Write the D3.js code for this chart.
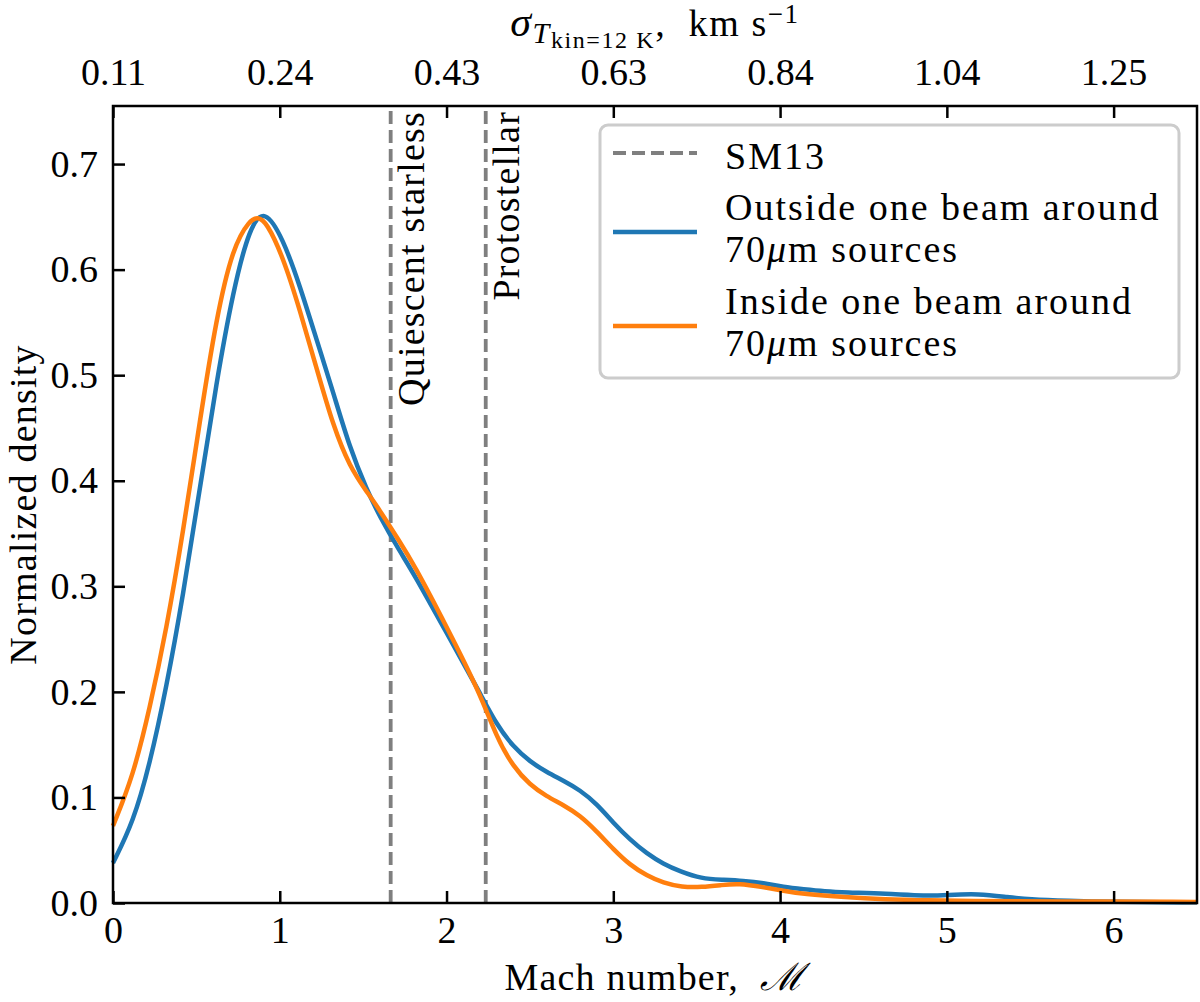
<!DOCTYPE html>
<html>
<head>
<meta charset="utf-8">
<script src="https://cdn.jsdelivr.net/npm/d3@7"></script>
<style>
  body { margin: 0; background: #fff; }
</style>
</head>
<body>
<script>
// Mach number grid and KDE densities
const machOutside = [0, 0.12, 0.22, 0.32, 0.42, 0.52, 0.62, 0.72, 0.82, 0.91, 1.02, 1.12, 1.22, 1.32, 1.42, 1.52, 1.6, 1.72, 1.8, 2.0, 2.2, 2.3, 2.4, 2.5, 2.6, 2.7, 2.8, 2.9, 3.0, 3.1, 3.2, 3.3, 3.4, 3.53, 3.65, 3.78, 3.9, 4.02, 4.14, 4.27, 4.39, 4.63, 4.88, 5.0, 5.19, 5.37, 5.49, 5.73, 5.97, 6.5]
const densOutside = [0.038, 0.076, 0.131, 0.204, 0.291, 0.392, 0.493, 0.58, 0.641, 0.658, 0.629, 0.585, 0.534, 0.484, 0.431, 0.392, 0.366, 0.333, 0.313, 0.256, 0.199, 0.169, 0.148, 0.134, 0.124, 0.116, 0.107, 0.094, 0.076, 0.06, 0.047, 0.037, 0.03, 0.023, 0.022, 0.021, 0.019, 0.015, 0.013, 0.011, 0.01, 0.009, 0.0066, 0.0076, 0.009, 0.0054, 0.0035, 0.002, 0.001, 0.0005]

const machInside = [0, 0.12, 0.22, 0.32, 0.42, 0.52, 0.62, 0.72, 0.82, 0.87, 0.92, 1.02, 1.12, 1.22, 1.32, 1.42, 1.52, 1.6, 1.72, 1.8, 2.0, 2.2, 2.3, 2.4, 2.5, 2.6, 2.7, 2.8, 2.9, 3.0, 3.1, 3.2, 3.3, 3.41, 3.53, 3.65, 3.75, 3.9, 4.02, 4.14, 4.39, 4.63, 4.88, 5.12, 5.61, 6.5]
const densInside = [0.073, 0.12, 0.184, 0.259, 0.351, 0.456, 0.555, 0.622, 0.647, 0.65, 0.645, 0.612, 0.562, 0.507, 0.452, 0.413, 0.39, 0.372, 0.342, 0.322, 0.262, 0.199, 0.157, 0.129, 0.112, 0.101, 0.093, 0.083, 0.068, 0.051, 0.036, 0.026, 0.019, 0.015, 0.015, 0.017, 0.0186, 0.015, 0.0116, 0.0085, 0.0054, 0.0035, 0.0025, 0.002, 0.0015, 0.001]

// SM13 thresholds (quiescent starless, protostellar)
const sm13Mach = [1.665, 2.235]
const sm13Labels = ["Quiescent starless", "Protostellar"]

const xTicks = [0, 1, 2, 3, 4, 5, 6]
const yTicks = [0, 0.1, 0.2, 0.3, 0.4, 0.5, 0.6, 0.7]
const sigmaLabels = ["0.11", "0.24", "0.43", "0.63", "0.84", "1.04", "1.25"]

const width = 1200, height = 1002
const margin = {left: 113, right: 3, top: 106, bottom: 99}
const fs = 38
const serif = '"Liberation Serif", "Times New Roman", serif'

const svg = d3.select("body")
    .append("svg")
    .attr("width", width)
    .attr("height", height)
    .style("font-family", serif)

const x = d3.scaleLinear().domain([0, 6.5]).range([margin.left, width - margin.right])
const y = d3.scaleLinear().domain([0, 0.755]).range([height - margin.bottom, margin.top])

const blue = "#1f77b4", orange = "#ff7f0e"

// SM13 dashed lines
svg.selectAll(".sm13")
    .data(sm13Mach)
    .enter()
    .append("line")
    .attr("class", "sm13")
    .attr("x1", d => x(d)).attr("x2", d => x(d))
    .attr("y1", y(0)).attr("y2", y(0.755))
    .attr("stroke", "#7f7f7f")
    .attr("stroke-width", 3.8)
    .attr("stroke-dasharray", "13,6")

svg.selectAll(".sm13-label")
    .data(sm13Mach)
    .enter()
    .append("text")
    .attr("class", "sm13-label")
    .attr("transform", d => `translate(${x(d) + 33},${y(0.755) + 5}) rotate(-90)`)
    .attr("text-anchor", "end")
    .attr("font-size", fs)
    .attr("letter-spacing", 1.2)
    .text((d, i) => sm13Labels[i])

// density curves
const line = d3.line()
    .x(d => x(d[0]))
    .y(d => y(d[1]))
    .curve(d3.curveBasis)

svg.append("path")
    .datum(d3.zip(machOutside, densOutside))
    .attr("d", line)
    .attr("fill", "none")
    .attr("stroke", blue)
    .attr("stroke-width", 4.5)

svg.append("path")
    .datum(d3.zip(machInside, densInside))
    .attr("d", line)
    .attr("fill", "none")
    .attr("stroke", orange)
    .attr("stroke-width", 4.5)

// axes, ticks pointing in
svg.append("g")
    .attr("transform", `translate(0,${y(0)})`)
    .call(d3.axisBottom(x).tickValues(xTicks).tickFormat(d3.format("d")).tickSizeInner(-12).tickSizeOuter(0).tickPadding(13))

svg.append("g")
    .attr("transform", `translate(0,${y(0.755)})`)
    .call(d3.axisTop(x).tickValues(xTicks).tickFormat((d, i) => sigmaLabels[i]).tickSizeInner(-12).tickSizeOuter(0).tickPadding(21))

svg.append("g")
    .attr("transform", `translate(${x(0)},0)`)
    .call(d3.axisLeft(y).tickValues(yTicks).tickFormat(d3.format(".1f")).tickSizeInner(-12).tickSizeOuter(0).tickPadding(15))

svg.selectAll(".domain").remove()
svg.selectAll(".tick line").attr("stroke", "#000").attr("stroke-width", 2.5)
svg.selectAll(".tick text")
    .attr("font-size", fs)
    .attr("fill", "#000")

// frame
svg.append("rect")
    .attr("x", x(0))
    .attr("y", y(0.755))
    .attr("width", x(6.5) - x(0))
    .attr("height", y(0) - y(0.755))
    .attr("fill", "none")
    .attr("stroke", "#000")
    .attr("stroke-width", 2.5)

// axis labels
svg.append("text")
    .attr("x", (x(0) + x(6.5)) / 2)
    .attr("y", 990)
    .attr("text-anchor", "middle")
    .attr("font-size", fs)
    .attr("letter-spacing", 1.2)
    .html('Mach number,&#160; <tspan font-style="italic">ℳ</tspan>')

svg.append("text")
    .attr("transform", `translate(36,${(y(0) + y(0.755)) / 2}) rotate(-90)`)
    .attr("text-anchor", "middle")
    .attr("font-size", fs)
    .attr("letter-spacing", 1.2)
    .text("Normalized density")

const title = svg.append("text")
    .attr("x", (x(0) + x(6.5)) / 2)
    .attr("y", 36)
    .attr("text-anchor", "middle")
    .attr("font-size", fs)
    .attr("letter-spacing", 1.6)
title.append("tspan").attr("font-style", "italic").attr("font-size", 42).text("σ")
title.append("tspan").attr("font-style", "italic").attr("font-size", 30).attr("dy", 7).text("T")
title.append("tspan").attr("font-size", 24).attr("dy", 5).text("kin=12 K")
title.append("tspan").attr("dy", -12).text(",\u00a0\u00a0km s")
title.append("tspan").attr("font-size", 27).attr("dy", -13).text("−1")

// legend
const legend = svg.append("g")
legend.append("rect")
    .attr("x", 600).attr("y", 125)
    .attr("width", 579).attr("height", 253)
    .attr("rx", 8)
    .attr("fill", "#fff")
    .attr("stroke", "#cccccc")
    .attr("stroke-width", 3)

const legendRows = [
    {color: "#7f7f7f", dash: "13,6", y: 153, lines: ["SM13"], base: 169},
    {color: blue, dash: null, y: 232, lines: ["Outside one beam around", "70|m sources"], base: 220},
    {color: orange, dash: null, y: 326, lines: ["Inside one beam around", "70|m sources"], base: 314}
]

legendRows.forEach(r => {
    legend.append("line")
        .attr("x1", 613).attr("x2", 697)
        .attr("y1", r.y).attr("y2", r.y)
        .attr("stroke", r.color)
        .attr("stroke-width", r.dash ? 3.8 : 4.5)
        .attr("stroke-dasharray", r.dash)
    r.lines.forEach((t, i) => {
        const tx = legend.append("text")
            .attr("x", 725)
            .attr("y", r.base + i * 42)
            .attr("font-size", fs)
            .attr("letter-spacing", 2)
        if (t.includes("|")) {
            const parts = t.split("|")
            tx.append("tspan").text(parts[0])
            tx.append("tspan").attr("font-style", "italic").text("μ")
            tx.append("tspan").text(parts[1])
        } else {
            tx.text(t)
        }
    })
})

// one font everywhere (the axis groups set their own family)
svg.selectAll("g").attr("font-family", null)
svg.selectAll("text").style("font-family", serif)
</script>
</body>
</html>
